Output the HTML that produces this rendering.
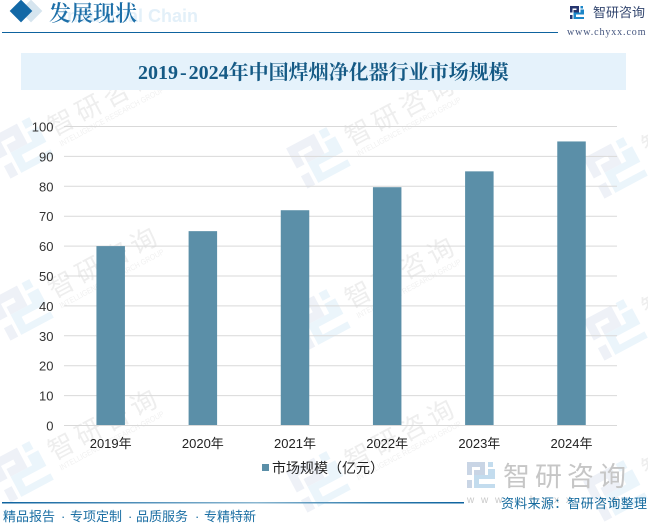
<!DOCTYPE html>
<html lang="zh">
<head>
<meta charset="utf-8">
<title>2019-2024年中国焊烟净化器行业市场规模</title>
<style>
html,body{margin:0;padding:0;background:#fff;overflow:hidden;}
#page{position:relative;width:648px;height:525px;overflow:hidden;background:#fff;font-family:"Liberation Sans","Noto Sans CJK SC",sans-serif;}
#page svg{position:absolute;left:0;top:0;display:block;}
</style>
</head>
<body>
<div id="page">
<svg id="chart" width="648" height="525" viewBox="0 0 648 525" xmlns="http://www.w3.org/2000/svg">
  <g id="watermarks"></g>

  <g>
    <rect x="-8" y="-8" width="16" height="16" transform="translate(31 11) rotate(45)" fill="#d6e5ef"/>
    <rect x="-8" y="-8" width="16" height="16" transform="translate(21 11) rotate(45)" fill="#1268a6"/>
    <text x="198" y="22" text-anchor="end" font-size="18" font-weight="700" fill="#e3f0f9" font-family="Liberation Sans, sans-serif">Industrial Chain</text>
    <text x="49" y="21" font-size="22" fill="#1d6fa8" font-family="'Noto Serif CJK SC','Liberation Serif',serif" font-weight="600">发展现状</text>
    <rect x="2" y="32" width="556" height="1" fill="#0e639f"/>
    <g transform="translate(570 6) scale(0.5)">
      <path d="M0 0H18V13H7V8H13V5H5V13H0Z M0 18H5V26H0Z" fill="#26356f"/>
      <path d="M21 0H26V5H21Z M21 7H28V17H12V22H28V26H7V13H21Z" fill="#1c86c8"/>
    </g>
    <text x="593" y="17" font-size="13" fill="#33466f">智研咨询</text>
    <text x="567" y="35" font-size="10" letter-spacing="0.9" fill="#44557e" font-family="'Liberation Serif',serif">www.chyxx.com</text>
  </g>

  <rect x="21" y="53" width="605" height="37" fill="#e5f2fb"/>
  <text x="138" y="79" font-size="20" font-weight="700" fill="#155a85" font-family="'Liberation Serif','Noto Serif CJK SC',serif">2019<tspan dx="2">-</tspan><tspan dx="2">2024年中国焊烟净化器行业市场规模</tspan></text>

  <g id="grid"></g>
  <g id="yticks"></g>
  <g id="bars"></g>
  <g id="xticks"></g>

  <g>
    <rect x="262" y="464" width="7" height="7" fill="#5b8fa8"/>
    <text x="272" y="473" font-size="14" fill="#222">市场规模（亿元）</text>
  </g>

  <g>
    <g transform="translate(467 462)">
      <path d="M0 0H18V13H7V8H13V5H5V13H0Z M0 18H5V26H0Z" fill="#c9d5e5"/>
      <path d="M21 0H26V5H21Z M21 7H28V17H12V22H28V26H7V13H21Z" fill="#c3dcee"/>
    </g>
    <text x="503" y="486" font-size="27" letter-spacing="5" fill="#c6c6c6">智研咨询</text>
    <text x="467" y="503" font-size="10" letter-spacing="6.8" fill="#c9c9c9">www.chyxx.com</text>
  </g>

  <defs>
    <linearGradient id="footerFade" x1="0" x2="1" y1="0" y2="0">
      <stop offset="0" stop-color="#0e639f"/>
      <stop offset="0.55" stop-color="#8ab6d0"/>
      <stop offset="0.8" stop-color="#2f7cad"/>
      <stop offset="1" stop-color="#0e639f"/>
    </linearGradient>
  </defs>
  <rect x="2" y="502" width="462" height="1.5" fill="url(#footerFade)"/>
  <text y="521" font-size="13" fill="#1a6ea3"><tspan x="3">精品报告</tspan><tspan x="61">·</tspan><tspan x="70">专项定制</tspan><tspan x="128">·</tspan><tspan x="136">品质服务</tspan><tspan x="195">·</tspan><tspan x="204">专精特新</tspan></text>
  <text x="501" y="508" font-size="13" letter-spacing="0.3" fill="#146a9e">资料来源：智研咨询整理</text>
</svg>
</div>
<script>
const categories = ["2019年", "2020年", "2021年", "2022年", "2023年", "2024年"];
const marketSize = [60, 65, 72, 79.7, 85, 95];
const yTickValues = [0, 10, 20, 30, 40, 50, 60, 70, 80, 90, 100];

const NS = "http://www.w3.org/2000/svg";
const plotLeft = 64;
const plotRight = 617;
const bandLeft = 64.6;
const bandRight = 617.6;
const plotTop = 126.5;
const plotBottom = 425.5;
const yMax = 100;
const barWidth = 28.5;

function yScale(v) {
  return plotBottom - (v / yMax) * (plotBottom - plotTop);
}
function xScale(i) {
  return bandLeft + (i + 0.5) * (bandRight - bandLeft) / categories.length;
}
function make(tag, attrs, parent) {
  const el = document.createElementNS(NS, tag);
  for (const k in attrs) el.setAttribute(k, attrs[k]);
  parent.appendChild(el);
  return el;
}

const gridG = document.getElementById("grid");
const yG = document.getElementById("yticks");
yTickValues.forEach(function (v) {
  const line = make("line", {x1: plotLeft, x2: plotRight, y1: yScale(v), y2: yScale(v), stroke: "#d9d9d9", "stroke-width": 1}, gridG);
  
  
  const t = make("text", {x: 53.5, y: yScale(v) + 5, "text-anchor": "end", "font-size": 13, fill: "#333"}, yG);
  t.textContent = String(v);
  
  
});

const barsG = document.getElementById("bars");
const xG = document.getElementById("xticks");
categories.forEach(function (c, i) {
  const top = yScale(marketSize[i]);
  const r = make("rect", {x: xScale(i) - barWidth / 2, y: top, width: barWidth, height: yScale(0) - top - 0.5, fill: "#5b8fa8"}, barsG);
  
  
  const t = make("text", {x: xScale(i), y: 448, "text-anchor": "middle", "font-size": 13, fill: "#222"}, xG);
  t.textContent = c;
  
  
});

/* decorative background watermarks: a 3-column, 3-row tilted lattice */
const wmG = document.getElementById("watermarks");
for (let row = 0; row < 3; row++) {
  for (let col = 0; col < 3; col++) {
    const wx = 22 + col * 297;
    const wy = Math.min(147 + row * 162 + col * 10, 490);
    const g = make("g", {transform: "translate(" + wx + " " + wy + ") rotate(-28)"}, wmG);
    
    
    const lp = make("path", {d: "M0 0H18V13H7V8H13V5H5V13H0Z M0 18H5V26H0Z", transform: "translate(-25 -23) scale(1.75)", fill: "#eef1f7"}, g);
    
    
    const rp = make("path", {d: "M21 0H26V5H21Z M21 7H28V17H12V22H28V26H7V13H21Z", transform: "translate(-25 -23) scale(1.75)", fill: "#ebf5fb"}, g);
    
    
    const t1 = make("text", {x: 33, y: 6, "font-size": 26, "letter-spacing": 5, fill: "#eeeeee"}, g);
    t1.textContent = col === 2 ? "智" : "智研咨询";
    
    
    if (col < 2) {
      const t2 = make("text", {x: 35, y: 18, "font-size": 8, textLength: 117, lengthAdjust: "spacingAndGlyphs", fill: "#f1f1f1"}, g);
      t2.textContent = "INTELLIGENCE RESEARCH GROUP";
      
      
    }
  }
}
</script>
</body>
</html>
